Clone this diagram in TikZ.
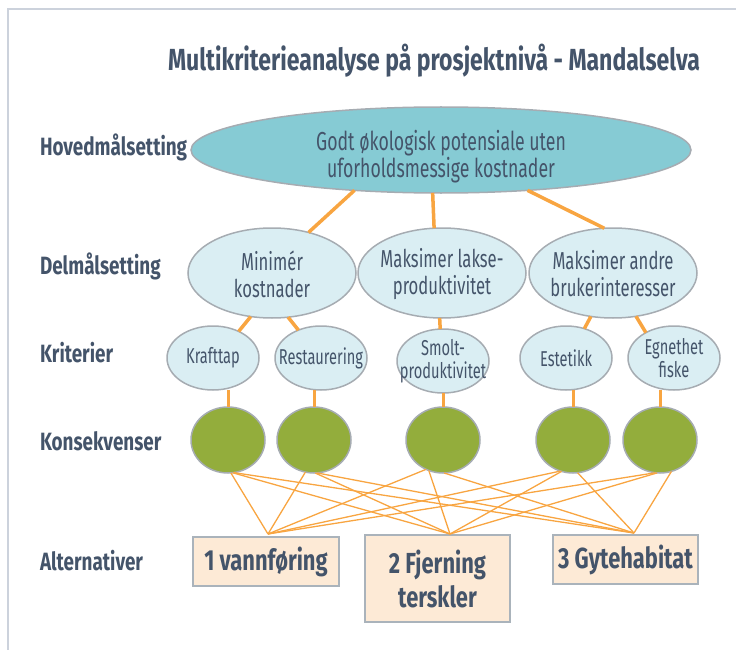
\documentclass[tikz,border=0pt]{standalone}
\usepackage{fontspec}
\setmainfont{Fira Sans}[FakeStretch=0.68,BoldFeatures={FakeStretch=0.755}]
\usetikzlibrary{shapes.geometric,calc}
\definecolor{txt}{HTML}{44546A}
\definecolor{mainfill}{HTML}{86CBD4}
\definecolor{lightfill}{HTML}{DAEEF3}
\definecolor{ellborder}{HTML}{A6ACB2}
\definecolor{consfill}{HTML}{93AD3C}
\definecolor{linkc}{HTML}{F8A541}
\definecolor{boxfill}{HTML}{FDEAD6}
\definecolor{boxborder}{HTML}{AAB3BB}
\definecolor{framec}{HTML}{CCD2DC}
\begin{document}
\begin{tikzpicture}[x=1pt,y=-1pt,
  every node/.style={text=txt,inner sep=0pt,outer sep=0pt},
  ell/.style={ellipse,draw=ellborder,line width=1.5pt},
  goal/.style={ell,fill=mainfill,minimum width=500pt,minimum height=86pt},
  sub/.style={ell,fill=lightfill,minimum width=168pt,minimum height=90pt},
  crit/.style={ell,fill=lightfill,minimum width=92pt,minimum height=64pt},
  cons/.style={ell,fill=consfill,minimum width=74pt,minimum height=66pt},
  bigtext/.style={font=\fontsize{26}{27}\selectfont,align=center},
  subtext/.style={font=\fontsize{24.5}{27}\selectfont,align=center},
  smalltext/.style={font=\fontsize{21.5}{23}\selectfont,align=center},
  alt/.style={draw=boxborder,fill=boxfill,line width=2pt,align=center,
    font=\fontsize{29}{34}\selectfont\bfseries},
  rowlab/.style={anchor=base west,font=\fontsize{25}{25}\selectfont\bfseries},
  heavy/.style={draw=linkc,line width=3.5pt},
  mid/.style={draw=linkc,line width=3pt},
  light/.style={draw=linkc,line width=1.3pt}]
\useasboundingbox (0,0) rectangle (736,650);
\draw[framec,line width=1.5pt] (8,650) -- (8,9) -- (736,9);

\node[anchor=base,font=\fontsize{30.5}{30}\selectfont\bfseries] (title) at (434,71)
  {Multikriterieanalyse på prosjektnivå - Mandalselva};

\node[rowlab] (lab1) at (40,156) {Hovedmålsetting};
\node[rowlab] (lab2) at (40,274) {Delmålsetting};
\node[rowlab] (lab3) at (40,362) {Kriterier};
\node[rowlab] (lab4) at (40,450) {Konsekvenser};
\node[rowlab] (lab5) at (40,570) {Alternativer};

% main goal
\node[goal] (main) at (441,150) {};
\node[bigtext] (maint) at (441,157) {Godt økologisk potensiale uten\\uforholdsmessige kostnader};

% sub goals
\node[sub] (d1) at (272,273) {};
\node[sub] (d2) at (442,273) {};
\node[sub] (d3) at (613,273) {};
\node[subtext] (d1t) at (272,274) {Minimér\\kostnader};
\node[subtext] (d2t) at (442,274) {Maksimer lakse-\\produktivitet};
\node[subtext] (d3t) at (613,274) {Maksimer andre\\brukerinteresser};

% criteria
\node[crit] (k1) at (213,358) {};
\node[crit] (k2) at (321,358) {};
\node[crit] (k3) at (443,361) {};
\node[crit] (k4) at (566,358) {};
\node[crit] (k5) at (674,358) {};
\node[smalltext] (k1t) at (213,358) {Krafttap};
\node[smalltext] (k2t) at (321,358) {Restaurering};
\node[smalltext] (k3t) at (443,361) {Smolt-\\produktivitet};
\node[smalltext] (k4t) at (566,358) {Estetikk};
\node[smalltext] (k5t) at (674,358) {Egnethet\\fiske};

% consequences
\node[cons] (g1) at (228,440) {};
\node[cons] (g2) at (314,440) {};
\node[cons] (g3) at (443,440) {};
\node[cons] (g4) at (573,440) {};
\node[cons] (g5) at (660,440) {};

% alternatives
\node[alt,minimum width=146pt,minimum height=49pt] (a1) at (266,561.5) {1 vannføring};
\node[alt,minimum width=145pt,minimum height=87pt] (a2) at (437.5,578.5) {2 Fjerning\\terskler};
\node[alt,minimum width=145pt,minimum height=49pt] (a3) at (625.5,559.5) {3 Gytehabitat};

% connectors main -> sub
\draw[heavy] (main.205) -- (d1.48);
\draw[heavy] (main.259) -- (d2.100);
\draw[heavy] (main.335) -- (d3.101);
% sub -> criteria
\draw[heavy] (d1.244) -- (k1.46);
\draw[heavy] (d1.290) -- (k2.129);
\draw[heavy] (d2.267) -- (k3.95);
\draw[heavy] (d3.243) -- (k4.58);
\draw[heavy] (d3.298) -- (k5.138);
% criteria -> consequences
\foreach \i in {1,...,5} {\draw[mid] (g\i.north |- k\i.south) -- (g\i.north);}

% consequences -> alternatives
\coordinate (p1) at (268,534);
\coordinate (p2) at (450,534);
\coordinate (p3) at (634,533);
\draw[light] (g1.275) -- (p1);
\draw[light] (g1.278) -- (p2);
\draw[light] (g1.280) -- (p3);
\draw[light] (g2.255) -- (p1);
\draw[light] (g2.272) -- (p2);
\draw[light] (g2.275) -- (p3);
\draw[light] (g3.240) -- (p1);
\draw[light] (g3.245) -- (p2);
\draw[light] (g3.272) -- (p3);
\draw[light] (g4.248) -- (p1);
\draw[light] (g4.250) -- (p2);
\draw[light] (g4.278) -- (p3);
\draw[light] (g5.262) -- (p1);
\draw[light] (g5.265) -- (p2);
\draw[light] (g5.290) -- (p3);
\end{tikzpicture}
\end{document}
